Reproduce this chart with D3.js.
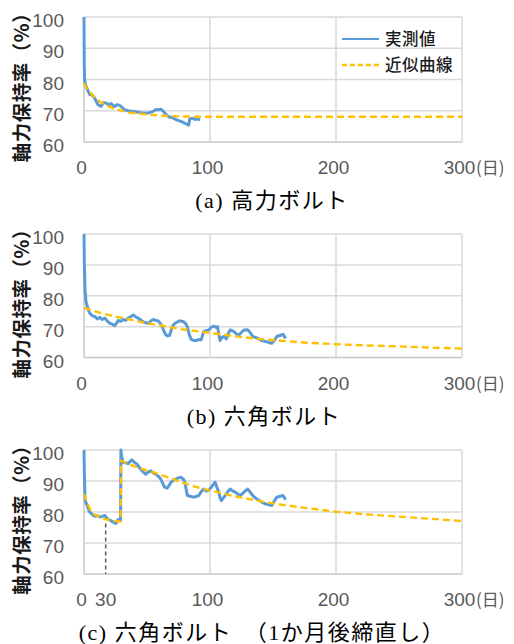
<!DOCTYPE html>
<html>
<head>
<meta charset="utf-8">
<script src="https://cdn.jsdelivr.net/npm/d3@7"></script>
<style>
  body { margin: 0; background: #fff; }
  svg { display: block; }
</style>
</head>
<body>
<div id="chart"></div>
<script>
// ticks
var dayTicks = [0, 100, 200, 300];
var rateTicks = [60, 70, 80, 90, 100];
var legendLabels = ["実測値", "近似曲線"];
var yTitle = "軸力保持率（%）";
var dayUnit = "(日)";
var captions = ["(a) 高力ボルト", "(b) 六角ボルト", "(c) 六角ボルト　（1か月後締直し）"];

// retightening marker in (c)
var markDay = 17.2, markTop = 76.3, markLabel = "30";

// (a) 高力ボルト  [day, %]
var measuredA = [[0,100],[0.2,85],[0.5,80],[1,78.5],[2.5,77],[4.5,75.2],[6.5,75],[8.5,74],[11,72],[13.5,71.4],
  [15.5,72.6],[17.5,72.5],[19.5,71.9],[21.5,72.3],[24,71.3],[26,71.9],[28,71.8],[30,71.2],[32,70.3],[36,69.9],
  [41,69.7],[45,69.4],[49,69.2],[52,69.4],[55,69.8],[57,70.4],[59,70.3],[61,70.5],[63,69.8],[65,68.8],[67,68.1],
  [70,67.8],[74,67],[77,66.6],[80,66],[82,65.6],[83,65.4],[84,67.4],[86,67.6],[88,67.2],[90,67.4],[92,67]];
var fitA = [[0,78.8],[2,77.4],[4.5,76.1],[8,74.4],[12.5,72.9],[17,71.9],[23,70.8],[30,70],[36,69.4],[43,69.1],
  [49,68.9],[56,68.6],[63,68.4],[75,68.2],[90,68.1],[150,68.1],[300,68.1]];

// (b) 六角ボルト
var measuredB = [[0,100],[0.3,90],[0.8,82],[1.6,78],[3,76],[4.5,74.4],[6.5,73.5],[8.5,73.3],[10.5,72.5],[12.5,73],
  [14.5,72.3],[16.4,72.8],[18.5,71.8],[20.4,71.1],[22.5,70.8],[24.3,70.3],[26,71.2],[27,72],[29,71.7],[31,72.3],
  [33,72],[35,72.8],[37,73.2],[39,73.8],[41,73.2],[43,72.7],[45,72.2],[47,71.5],[49,71.3],[51,71],[53,71.8],
  [55,72.3],[57,72],[59,71.8],[61,70.8],[62,70],[63.5,68.5],[65,67.3],[66.5,67],[68,67.2],[70,70],[72,71],
  [74,71.5],[76,71.9],[79,71.6],[81,70.8],[82,70],[83.5,67.5],[85,65.9],[87,65.5],[89,65.5],[91,65.8],[93,65.7],
  [95,68.4],[97,68.7],[99,68.9],[101,69.8],[103,70.2],[105,69.7],[106,70],[107,67.5],[108,65.5],[109.5,66.5],
  [111,66.8],[113,66],[114.5,67.8],[116,68.9],[118,68.6],[119,68.4],[121,67.6],[123,67.3],[125,68.2],[127,68.9],
  [129.8,69],[132,68],[134,66.8],[136,66.5],[139,66],[141,65.5],[144,65.2],[147,64.8],[149,64.6],[151,65.5],
  [153,66.8],[156,67.2],[158,67.5],[160,66.2]];
var fitB = [[0,76.1],[5,75.4],[12.5,74.5],[20,73.7],[28,73],[40,72],[50,71.1],[63,70.2],[77,69.2],[92,68.4],
  [107,67.6],[119,66.9],[132,66.3],[145,65.8],[158,65.4],[172,64.9],[200,64.3],[225,63.9],[250,63.6],[275,63.2],[300,62.9]];

// (c) 六角ボルト（1か月後締直し）
var measuredC = [[0,100],[0.3,92],[0.6,87.5],[0.8,84.2],[1.5,83],[2.6,82.1],[3.5,81],[4.5,80],[6.5,79.2],[8.5,78.6],
  [10.5,78.8],[12.5,78.4],[14.5,78.6],[16.4,78.9],[17.5,78.3],[19,77.6],[21,77.3],[23,76.8],[25,76.3],[26,76.6],
  [27,77.6],[28.5,77.2],[29,77.3],[29.3,100],[29.8,98],[31,96],[33,95.9],[35,95.6],[37,96.5],[38,96.8],[40,96],
  [42,95.5],[44,94.3],[46,93.3],[48,92.5],[49,92.2],[51,92.8],[53,93.3],[55,92.6],[57,92.2],[59,91.5],[61,90.6],
  [62.5,89.2],[64,88],[66,87.7],[67.5,88.5],[69,89.6],[71,90.2],[73,90.6],[75,91],[77,91.2],[79,90.5],[80,89.6],
  [81,87.5],[82,85.3],[85,85],[87,84.8],[89,85],[91,85.3],[93,86.5],[95,87.4],[97,86.8],[99,87],[101,88],[102,88.5],
  [104,89.6],[105.5,88],[107,86.4],[108,84.5],[109,83.7],[110.5,84.5],[112,85.3],[114,86.5],[116,87.4],[118,86.8],
  [120,86.4],[122,85.8],[124,85.3],[126,86],[128,86.8],[130,87.4],[132,86.3],[134,85.3],[136,84.5],[139,83.7],
  [141,83.2],[144,82.6],[147,82.3],[149,82.1],[151,83.5],[153,84.8],[155,85],[158,85.3],[160,84]];
var fitC = [[0,85.8],[1.5,84],[3.5,82.1],[5,80.8],[7,79.5],[10,78.8],[12.5,78.4],[16,77.8],[20,77.4],[24,77.1],
  [29,77],[29.5,96.5],[36,95.4],[43,94.3],[49,93.5],[56,92.7],[62,91.8],[69,90.9],[75,89.9],[82,89],[88,88.2],
  [95,87.4],[106,86.4],[119,85.1],[132,84.1],[145,83.1],[158,82.3],[172,81.5],[186,80.8],[200,80.1],[225,79.2],
  [250,78.5],[275,77.8],[300,77.1]];

var width = 514, height = 644;
var left = 84, right = 462;
var blue = "#5b9bd5", orange = "#ffc000", grid = "#d9d9d9", tickColor = "#595959";
var latin = "'Liberation Sans', Arial, sans-serif";
var cjk = "'Noto Sans CJK JP', sans-serif";
var serif = "'Liberation Serif', 'Noto Sans CJK JP', serif";

var panels = [
  { top: 17, bottom: 142, measured: measuredA, fit: fitA, caption: captions[0], capX: 272, legend: true },
  { top: 234, bottom: 357.5, measured: measuredB, fit: fitB, caption: captions[1], capX: 264 },
  { top: 450, bottom: 574, measured: measuredC, fit: fitC, caption: captions[2], capX: 262, mark: true }
];

var svg = d3.select("#chart").append("svg")
  .attr("width", width)
  .attr("height", height);

svg.append("rect").attr("width", width).attr("height", height).attr("fill", "#fff");

var x = d3.scaleLinear().domain([0, 300]).range([left, right]);

panels.forEach(function (p) {
  var y = d3.scaleLinear().domain([60, 100]).range([p.bottom, p.top]);
  var g = svg.append("g");

  // gridlines
  g.selectAll(".hgrid").data(rateTicks).enter().append("line")
    .attr("x1", left).attr("x2", right)
    .attr("y1", d => y(d)).attr("y2", d => y(d))
    .attr("stroke", d => d == 60 ? "#c8c8c8" : grid)
    .attr("stroke-width", 1.5);
  g.selectAll(".vgrid").data(dayTicks).enter().append("line")
    .attr("x1", d => x(d)).attr("x2", d => x(d))
    .attr("y1", p.top).attr("y2", p.bottom)
    .attr("stroke", d => d == 0 ? "#c8c8c8" : grid)
    .attr("stroke-width", 1.5);

  // y tick labels
  var yAxis = g.append("g")
    .attr("transform", "translate(" + left + ",0)")
    .call(d3.axisLeft(y).tickValues(rateTicks).tickSize(0).tickPadding(20));
  yAxis.select(".domain").remove();
  yAxis.selectAll("text")
    .attr("font-family", latin).attr("font-size", 19).attr("fill", tickColor)
    .attr("dy", "0.5em");

  // x tick labels
  var xAxis = g.append("g")
    .attr("transform", "translate(-3," + p.bottom + ")")
    .call(d3.axisBottom(x).tickValues(dayTicks).tickSize(0).tickPadding(0));
  xAxis.select(".domain").remove();
  xAxis.selectAll("text")
    .attr("font-family", latin).attr("font-size", 19).attr("fill", tickColor)
    .attr("dy", 32);
  g.append("text")
    .attr("x", x(300) + 14).attr("y", p.bottom + 32)
    .attr("font-family", cjk).attr("font-size", 17).attr("fill", tickColor)
    .text(dayUnit);

  // y title
  g.append("text")
    .attr("transform", "translate(29," + ((p.top + p.bottom) / 2 + 3) + ") rotate(-90)")
    .attr("text-anchor", "middle")
    .attr("font-family", cjk).attr("font-weight", "bold").attr("font-size", 19.5)
    .attr("letter-spacing", 0.5)
    .attr("fill", "#1a1a1a")
    .text(yTitle);

  if (p.mark) {
    g.append("line")
      .attr("x1", x(markDay)).attr("x2", x(markDay))
      .attr("y1", y(markTop)).attr("y2", y(60))
      .attr("stroke", "#595959").attr("stroke-width", 1.5)
      .attr("stroke-dasharray", "4,3");
    g.append("text")
      .attr("x", x(markDay)).attr("y", p.bottom + 32)
      .attr("text-anchor", "middle")
      .attr("font-family", latin).attr("font-size", 19).attr("fill", tickColor)
      .text(markLabel);
  }

  var line = d3.line().x(d => x(d[0])).y(d => y(d[1]));

  g.append("path").datum(p.measured)
    .attr("d", line)
    .attr("fill", "none").attr("stroke", blue)
    .attr("stroke-width", 3).attr("stroke-linejoin", "round");

  g.append("path").datum(p.fit)
    .attr("d", line)
    .attr("fill", "none").attr("stroke", orange)
    .attr("stroke-width", 2.4).attr("stroke-dasharray", "7,4");

  // caption
  g.append("text")
    .attr("x", p.capX).attr("y", p.bottom + 66)
    .attr("text-anchor", "middle")
    .attr("font-family", serif).attr("font-size", 22)
    .attr("letter-spacing", 1.5)
    .attr("fill", "#000")
    .text(p.caption);

  if (p.legend) {
    var lg = g.append("g").attr("transform", "translate(342,39)");
    var items = lg.selectAll("g").data(legendLabels).enter().append("g")
      .attr("transform", (d, i) => "translate(0," + i * 26 + ")");
    items.append("line")
      .attr("x1", 0).attr("x2", 37)
      .attr("stroke", (d, i) => i == 0 ? blue : orange)
      .attr("stroke-width", (d, i) => i == 0 ? 2.2 : 2.4)
      .attr("stroke-dasharray", (d, i) => i == 0 ? null : "5,3");
    items.append("text")
      .attr("x", 43).attr("dy", "0.35em")
      .attr("font-family", cjk).attr("font-size", 16.5).attr("font-weight", 500)
      .attr("letter-spacing", 0.5)
      .attr("fill", "#1a1a1a")
      .text(d => d);
  }
});
</script>
</body>
</html>
